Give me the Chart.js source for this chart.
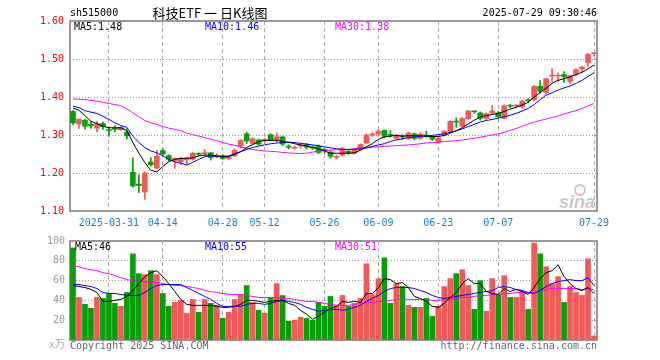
<!DOCTYPE html>
<html>
<head>
<meta charset="utf-8">
<script src="https://cdn.jsdelivr.net/npm/chart.js@4.4.0/dist/chart.umd.min.js"></script>
<style>
  body { margin: 0; background: #fff; }
  #wrap { position: relative; width: 660px; height: 360px; }
  #k { position: absolute; left: 0; top: 0; }
  #v { position: absolute; left: 0; top: 230px; }
</style>
</head>
<body>
<div id="wrap">
  <canvas id="k" width="660" height="230"></canvas>
  <canvas id="v" width="660" height="130"></canvas>
</div>
<script>
// trading days shown, 2025-03-21 .. 2025-07-29
const dates = [
  '03-21','03-24','03-25','03-26','03-27','03-28','03-31',
  '04-01','04-02','04-03','04-07','04-08','04-09','04-10','04-11','04-14','04-15','04-16','04-17','04-18',
  '04-21','04-22','04-23','04-24','04-25','04-28','04-29','04-30',
  '05-06','05-07','05-08','05-09','05-12','05-13','05-14','05-15','05-16','05-19','05-20','05-21','05-22','05-23',
  '05-26','05-27','05-28','05-29','05-30',
  '06-03','06-04','06-05','06-06','06-09','06-10','06-11','06-12','06-13','06-16','06-17','06-18','06-19','06-20',
  '06-23','06-24','06-25','06-26','06-27','06-30',
  '07-01','07-02','07-03','07-04','07-07','07-08','07-09','07-10','07-11','07-14','07-15','07-16','07-17','07-18',
  '07-21','07-22','07-23','07-24','07-25','07-28','07-29'
];
const xTicks = ['03-31','04-14','04-28','05-12','05-26','06-09','06-23','07-07','07-29'];
const xTickText = ['2025-03-31','04-14','04-28','05-12','05-26','06-09','06-23','07-07','07-29'];
const priceTicks = [1.10, 1.20, 1.30, 1.40, 1.50, 1.60];
const volTicks = [0, 20, 40, 60, 80, 100];

const opens = [
  1.362,1.329,1.339,1.328,1.318,1.330,1.313,1.317,1.314,1.308,
  1.202,1.171,1.150,1.229,1.213,1.259,1.246,1.232,1.230,1.235,
  1.236,1.252,1.251,1.253,1.244,1.246,1.238,1.245,1.271,1.303,
  1.278,1.287,1.285,1.301,1.286,1.295,1.270,1.265,1.271,1.275,
  1.269,1.270,1.262,1.255,1.241,1.247,1.257,1.252,1.262,1.279,
  1.300,1.302,1.312,1.301,1.291,1.297,1.291,1.303,1.291,1.300,
  1.295,1.280,1.299,1.310,1.336,1.323,1.343,1.362,1.358,1.344,
  1.358,1.358,1.344,1.377,1.376,1.374,1.391,1.393,1.428,1.412,
  1.455,1.455,1.459,1.441,1.460,1.474,1.490,1.514
];
const highs = [
  1.365,1.342,1.342,1.334,1.336,1.334,1.321,1.325,1.322,1.316,
  1.240,1.195,1.203,1.240,1.260,1.264,1.248,1.240,1.242,1.242,
  1.254,1.253,1.262,1.255,1.251,1.248,1.244,1.263,1.288,1.308,
  1.293,1.290,1.291,1.303,1.306,1.297,1.274,1.271,1.279,1.278,
  1.272,1.274,1.265,1.258,1.247,1.268,1.262,1.264,1.277,1.303,
  1.306,1.315,1.314,1.312,1.302,1.302,1.308,1.305,1.306,1.310,
  1.297,1.294,1.312,1.338,1.345,1.346,1.365,1.363,1.361,1.358,
  1.378,1.362,1.379,1.380,1.380,1.392,1.395,1.430,1.443,1.450,
  1.474,1.463,1.467,1.458,1.474,1.480,1.515,1.515
];
const lows = [
  1.327,1.317,1.316,1.317,1.309,1.315,1.296,1.309,1.312,1.290,
  1.163,1.148,1.131,1.218,1.210,1.247,1.231,1.212,1.222,1.223,
  1.234,1.245,1.247,1.234,1.240,1.236,1.235,1.243,1.265,1.277,
  1.275,1.272,1.279,1.284,1.280,1.272,1.263,1.262,1.265,1.263,
  1.262,1.251,1.252,1.239,1.238,1.244,1.249,1.250,1.260,1.277,
  1.296,1.300,1.292,1.294,1.289,1.288,1.288,1.287,1.289,1.294,
  1.285,1.278,1.297,1.307,1.320,1.320,1.341,1.357,1.339,1.340,
  1.355,1.345,1.342,1.372,1.371,1.370,1.385,1.390,1.410,1.408,
  1.441,1.441,1.438,1.435,1.456,1.466,1.480,1.508
];
const closes = [
  1.332,1.341,1.323,1.324,1.330,1.322,1.312,1.315,1.320,1.298,
  1.166,1.167,1.200,1.222,1.244,1.250,1.236,1.238,1.239,1.239,
  1.252,1.249,1.253,1.241,1.245,1.238,1.242,1.260,1.286,1.284,
  1.290,1.276,1.288,1.286,1.295,1.276,1.268,1.267,1.273,1.268,
  1.266,1.254,1.259,1.244,1.243,1.265,1.253,1.262,1.275,1.300,
  1.302,1.310,1.296,1.299,1.300,1.295,1.305,1.291,1.302,1.296,
  1.289,1.292,1.310,1.336,1.334,1.343,1.363,1.361,1.344,1.356,
  1.363,1.348,1.377,1.376,1.378,1.389,1.390,1.428,1.415,1.448,
  1.457,1.456,1.453,1.456,1.472,1.479,1.512,1.515
];
// moving averages as drawn on the chart
const ma5 = [
  1.371,1.365,1.351,1.336,1.330,1.323,1.319,1.319,1.319,1.312,
  1.280,1.252,1.228,1.207,1.203,1.217,1.230,1.236,1.238,1.239,
  1.240,1.245,1.247,1.247,1.245,1.243,1.243,1.249,1.256,1.267,
  1.275,1.282,1.286,1.286,1.286,1.283,1.281,1.277,1.274,1.271,
  1.267,1.264,1.258,1.252,1.252,1.252,1.252,1.253,1.260,1.269,
  1.277,1.289,1.295,1.297,1.299,1.297,1.298,1.298,1.298,1.297,
  1.296,1.296,1.299,1.305,1.311,1.319,1.329,1.339,1.347,1.351,
  1.354,1.357,1.362,1.368,1.373,1.379,1.386,1.400,1.412,1.423,
  1.436,1.444,1.448,1.453,1.459,1.465,1.474,1.484
];
const ma10 = [
  1.376,1.372,1.364,1.360,1.357,1.349,1.341,1.332,1.325,1.320,
  1.297,1.280,1.267,1.258,1.253,1.245,1.236,1.229,1.226,1.221,
  1.228,1.236,1.243,1.245,1.243,1.243,1.245,1.251,1.256,1.262,
  1.267,1.271,1.274,1.277,1.279,1.280,1.281,1.280,1.278,1.276,
  1.274,1.272,1.269,1.266,1.264,1.262,1.262,1.262,1.263,1.266,
  1.270,1.274,1.277,1.283,1.287,1.290,1.293,1.295,1.296,1.297,
  1.299,1.301,1.303,1.307,1.311,1.316,1.322,1.328,1.334,1.338,
  1.341,1.344,1.348,1.352,1.357,1.363,1.370,1.380,1.393,1.405,
  1.411,1.418,1.424,1.429,1.436,1.444,1.454,1.464
];
const ma30 = [
  1.395,1.394,1.393,1.391,1.389,1.386,1.383,1.380,1.377,1.369,
  1.358,1.348,1.338,1.332,1.328,1.322,1.318,1.315,1.311,1.305,
  1.301,1.297,1.293,1.289,1.285,1.280,1.276,1.273,1.268,1.265,
  1.262,1.260,1.258,1.257,1.256,1.254,1.253,1.252,1.251,1.252,
  1.255,1.257,1.259,1.260,1.261,1.261,1.262,1.264,1.266,1.267,
  1.268,1.269,1.270,1.271,1.272,1.273,1.274,1.275,1.277,1.279,
  1.280,1.281,1.283,1.284,1.285,1.287,1.289,1.291,1.294,1.297,
  1.300,1.303,1.307,1.312,1.317,1.323,1.329,1.334,1.338,1.342,
  1.346,1.350,1.355,1.360,1.364,1.370,1.376,1.383
];
// volume, 10k lots
const vols = [
  93,43,36,32,43,42,47,37,34,48,
  87,67,66,70,66,47,34,38,40,27,
  41,28,41,37,35,22,28,41,46,55,
  38,30,27,43,57,45,19,20,23,22,
  20,38,34,44,34,45,34,37,42,77,
  46,62,83,37,57,54,35,33,33,42,
  24,34,54,62,67,71,55,31,60,29,
  62,46,65,43,43,49,31,98,87,74,
  57,64,38,54,48,45,82,4
];
const vma5 = [
  55,54,53,51,48,39,39,40,41,44,
  50,57,64,68,70,64,57,49,41,36,
  35,35,35,35,34,33,33,34,36,40,
  40,39,38,39,40,40,37,35,30,26,
  21,24,28,32,34,39,38,39,38,47,
  47,53,62,61,57,58,53,44,42,39,
  34,33,37,43,48,57,62,57,57,49,
  47,46,52,49,51,49,46,53,62,68,
  70,76,64,57,52,50,53,47
];
const vma10 = [
  56,56,55,54,52,48,47,47,46,45,
  45,45,48,52,55,56,56,56,56,53,
  50,47,44,41,37,34,34,34,34,36,
  37,37,36,37,39,40,39,38,36,33,
  31,29,30,31,31,30,31,33,35,39,
  42,45,49,52,53,53,53,52,50,48,
  45,43,42,43,44,45,46,47,48,49,
  50,53,54,53,51,50,48,47,50,54,
  57,59,60,61,60,60,63,55
];
const vma30 = [
  75,74,72,71,70,68,67,65,63,61,
  60,59,59,58,58,57,56,55,55,54,
  53,52,50,49,48,47,46,46,46,45,
  44,43,43,43,43,42,42,41,40,39,
  39,38,37,36,35,35,35,36,37,38,
  38,39,39,40,41,41,41,41,41,41,
  40,40,41,41,42,43,43,44,45,45,
  46,46,47,47,48,48,48,48,49,51,
  52,52,52,52,52,51,52,51
];

const UP = '#f25a5a', DOWN = '#079f07';
const GRID = '#999999';
const mono = 'DejaVu Sans Mono';
const colors = closes.map((c, i) => c >= opens[i] ? UP : DOWN);

Chart.defaults.font.family = mono;
Chart.defaults.font.size = 10;
Chart.defaults.animation = false;

function xAxis(showLabels) {
  return {
    offset: true,
    grid: {
      offset: false, drawTicks: false, lineWidth: 1,
      color: c => xTicks.includes(dates[c.index]) ? '#aaaaaa' : 'rgba(0,0,0,0)'
    },
    border: { display: false, dash: [4, 3] },
    ticks: {
      display: showLabels, autoSkip: false, maxRotation: 0, padding: 6, color: '#1a7fd0',
      callback: (v, i) => { const k = xTicks.indexOf(dates[i]); return k < 0 ? '' : xTickText[k]; }
    },
    afterFit: s => { s.height = showLabels ? 19 : 0; }
  };
}

function line(data, color) {
  return { type: 'line', data, borderColor: color, borderWidth: 1, pointRadius: 0, tension: 0, order: 0 };
}

const frame = {
  id: 'frame',
  beforeDatasetsDraw(chart) {
    const { ctx, chartArea: a } = chart;
    ctx.save();
    ctx.strokeStyle = '#999';
    ctx.lineWidth = 2;
    ctx.strokeRect(a.left, a.top, a.right - a.left, a.bottom - a.top);
    ctx.restore();
  }
};

function text(ctx, s, x, y, color, align, font) {
  ctx.font = font || '10px ' + mono;
  ctx.fillStyle = color;
  ctx.textAlign = align || 'left';
  ctx.textBaseline = 'middle';
  ctx.fillText(s, x, y);
}

const kText = {
  id: 'kText',
  afterDraw(chart) {
    const ctx = chart.ctx;
    ctx.save();
    text(ctx, 'sh515000', 70, 13, '#000');
    text(ctx, '科技ETF 一 日K线图', 210, 13, '#000', 'center', '13px "Noto Sans CJK SC"');
    text(ctx, '2025-07-29 09:30:46', 597, 13, '#000', 'right');
    text(ctx, 'MA5:1.48', 74, 27, '#000');
    text(ctx, 'MA10:1.46', 205, 27, '#0000ff');
    text(ctx, 'MA30:1.38', 335, 27, '#ff00ff');
    // sina watermark
    ctx.strokeStyle = '#f2b4b4';
    ctx.lineWidth = 2;
    ctx.beginPath();
    ctx.arc(580, 190, 5, 0, Math.PI * 2);
    ctx.stroke();
    text(ctx, 'sina', 577, 203, '#c9c9c9', 'center', 'italic bold 18px "Liberation Sans"');
    ctx.restore();
  }
};

const vText = {
  id: 'vText',
  afterDraw(chart) {
    const ctx = chart.ctx;
    ctx.save();
    text(ctx, 'MA5:46', 75, 17, '#000');
    text(ctx, 'MA10:55', 205, 17, '#0000ff');
    text(ctx, 'MA30:51', 335, 17, '#ff00ff');
    text(ctx, 'x万', 49, 114, '#aaa', 'left', '11px "Noto Sans CJK SC"');
    text(ctx, 'Copyright 2025 SINA.COM', 70, 116, '#666');
    text(ctx, 'http://finance.sina.com.cn', 597, 116, '#666', 'right');
    ctx.restore();
  }
};

new Chart(document.getElementById('k'), {
  type: 'bar',
  data: {
    labels: dates,
    datasets: [
      line(ma5, '#000000'),
      line(ma10, '#0000ff'),
      line(ma30, '#ff00ff'),
      { data: opens.map((o, i) => [o, closes[i]]), backgroundColor: colors,
        barThickness: 5, minBarLength: 1, grouped: false, order: 1 },
      { data: lows.map((l, i) => [l, highs[i]]), backgroundColor: colors,
        barThickness: 1, grouped: false, order: 2 }
    ]
  },
  options: {
    responsive: false,
    layout: { padding: { top: 21, right: 63, left: 0, bottom: 0 } },
    plugins: { legend: { display: false }, tooltip: { enabled: false } },
    scales: {
      x: xAxis(true),
      y: {
        min: 1.10, max: 1.60,
        afterBuildTicks: s => { s.ticks = priceTicks.map(v => ({ value: v })); },
        grid: { color: GRID, drawTicks: false },
        border: { display: false, dash: [1, 2] },
        ticks: { color: '#ff0000', padding: 6, callback: v => v.toFixed(2) },
        afterFit: s => { s.width = 70; }
      }
    }
  },
  plugins: [frame, kText]
});

new Chart(document.getElementById('v'), {
  type: 'bar',
  data: {
    labels: dates,
    datasets: [
      line(vma5, '#000000'),
      line(vma10, '#0000ff'),
      line(vma30, '#ff00ff'),
      { data: vols, backgroundColor: colors, barThickness: 5, order: 1 }
    ]
  },
  options: {
    responsive: false,
    layout: { padding: { top: 10, right: 63, left: 0, bottom: 20 } },
    plugins: { legend: { display: false }, tooltip: { enabled: false } },
    scales: {
      x: xAxis(false),
      y: {
        min: 0, max: 100,
        afterBuildTicks: s => { s.ticks = volTicks.map(v => ({ value: v })); },
        grid: { color: GRID, drawTicks: false },
        border: { display: false, dash: [1, 2] },
        ticks: { color: '#999', padding: 5, callback: v => v === 0 ? '' : v },
        afterFit: s => { s.width = 70; }
      }
    }
  },
  plugins: [frame, vText]
});
</script>
</body>
</html>
